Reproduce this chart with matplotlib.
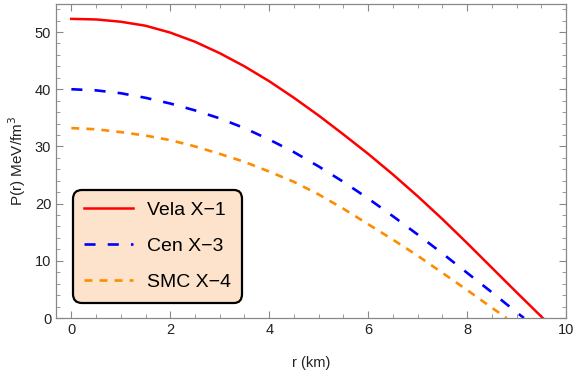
import matplotlib
matplotlib.use("Agg")
import matplotlib.pyplot as plt
from matplotlib.ticker import MultipleLocator

plt.rcParams['font.family'] = ['Liberation Sans', 'DejaVu Sans']

r_vela = [0, 0.5, 1, 1.5, 2, 2.5, 3, 3.5, 4, 4.5, 5, 5.5, 6, 6.5, 7, 7.5, 8, 8.5, 9, 9.53]
p_vela = [52.3, 52.2, 51.8, 51.1, 49.9, 48.3, 46.3, 44.0, 41.4, 38.5, 35.4, 32.1, 28.7, 25.1, 21.3, 17.3, 13.1, 8.8, 4.5, 0.0]

r_cen = [0, 0.5, 1, 1.5, 2, 2.5, 3, 3.5, 4, 4.5, 5, 5.5, 6, 6.5, 7, 7.5, 8, 8.5, 9, 9.15]
p_cen = [40.0, 39.8, 39.3, 38.5, 37.5, 36.3, 34.9, 33.2, 31.2, 29.0, 26.5, 23.8, 20.9, 17.8, 14.6, 11.3, 7.9, 4.5, 1.0, 0.0]

r_smc = [0, 0.5, 1, 1.5, 2, 2.5, 3, 3.5, 4, 4.5, 5, 5.5, 6, 6.5, 7, 7.5, 8, 8.5, 8.8]
p_smc = [33.2, 33.0, 32.5, 31.9, 31.1, 30.0, 28.7, 27.3, 25.6, 23.8, 21.6, 19.1, 16.4, 13.7, 10.9, 7.9, 4.9, 1.8, 0.0]

labels = ["Vela X\u22121", "Cen X\u22123", "SMC X\u22124"]

fig = plt.figure(figsize=(5.76, 3.72), dpi=100)
ax = fig.add_axes([56/576, 54/372, 510/576, 314/372])

ax.plot(r_vela, p_vela, color='#ff0000', lw=1.8, label=labels[0])
ax.plot(r_cen, p_cen, color='#0000ff', lw=1.9, dashes=(4.2, 4.6), label=labels[1])
ax.plot(r_smc, p_smc, color='#ff8c00', lw=1.9, dashes=(3.0, 2.7), label=labels[2])

ax.set_xlim(-0.31, 10)
ax.set_ylim(0, 54.9)
ax.xaxis.set_major_locator(MultipleLocator(2))
ax.xaxis.set_minor_locator(MultipleLocator(0.5))
ax.yaxis.set_major_locator(MultipleLocator(10))
ax.yaxis.set_minor_locator(MultipleLocator(2))
ax.tick_params(which='both', direction='in', top=True, right=True, color='#888888',
               labelsize=10.5, labelcolor='#222222')
ax.tick_params(which='major', length=5, width=0.8)
ax.tick_params(which='minor', length=3, width=0.6)
for s in ax.spines.values():
    s.set_color('#888888')
    s.set_linewidth(0.9)

ax.set_xlabel("r (km)", fontsize=10.5, color='#222222', labelpad=14)
ax.set_ylabel("P(r) MeV/fm$^3$", fontsize=11, color='#222222', labelpad=5)

leg = ax.legend(loc='lower left', bbox_to_anchor=(0.033, 0.048), borderaxespad=0,
                fontsize=14, fancybox=True, framealpha=1, facecolor='#fde3cb',
                edgecolor='black', handlelength=2.5, borderpad=0.6, labelspacing=0.95,
                handletextpad=0.7)
leg.get_frame().set_linewidth(1.6)
leg.get_frame().set_boxstyle('round,pad=0,rounding_size=0.45')

fig.savefig("out.png", dpi=100)
